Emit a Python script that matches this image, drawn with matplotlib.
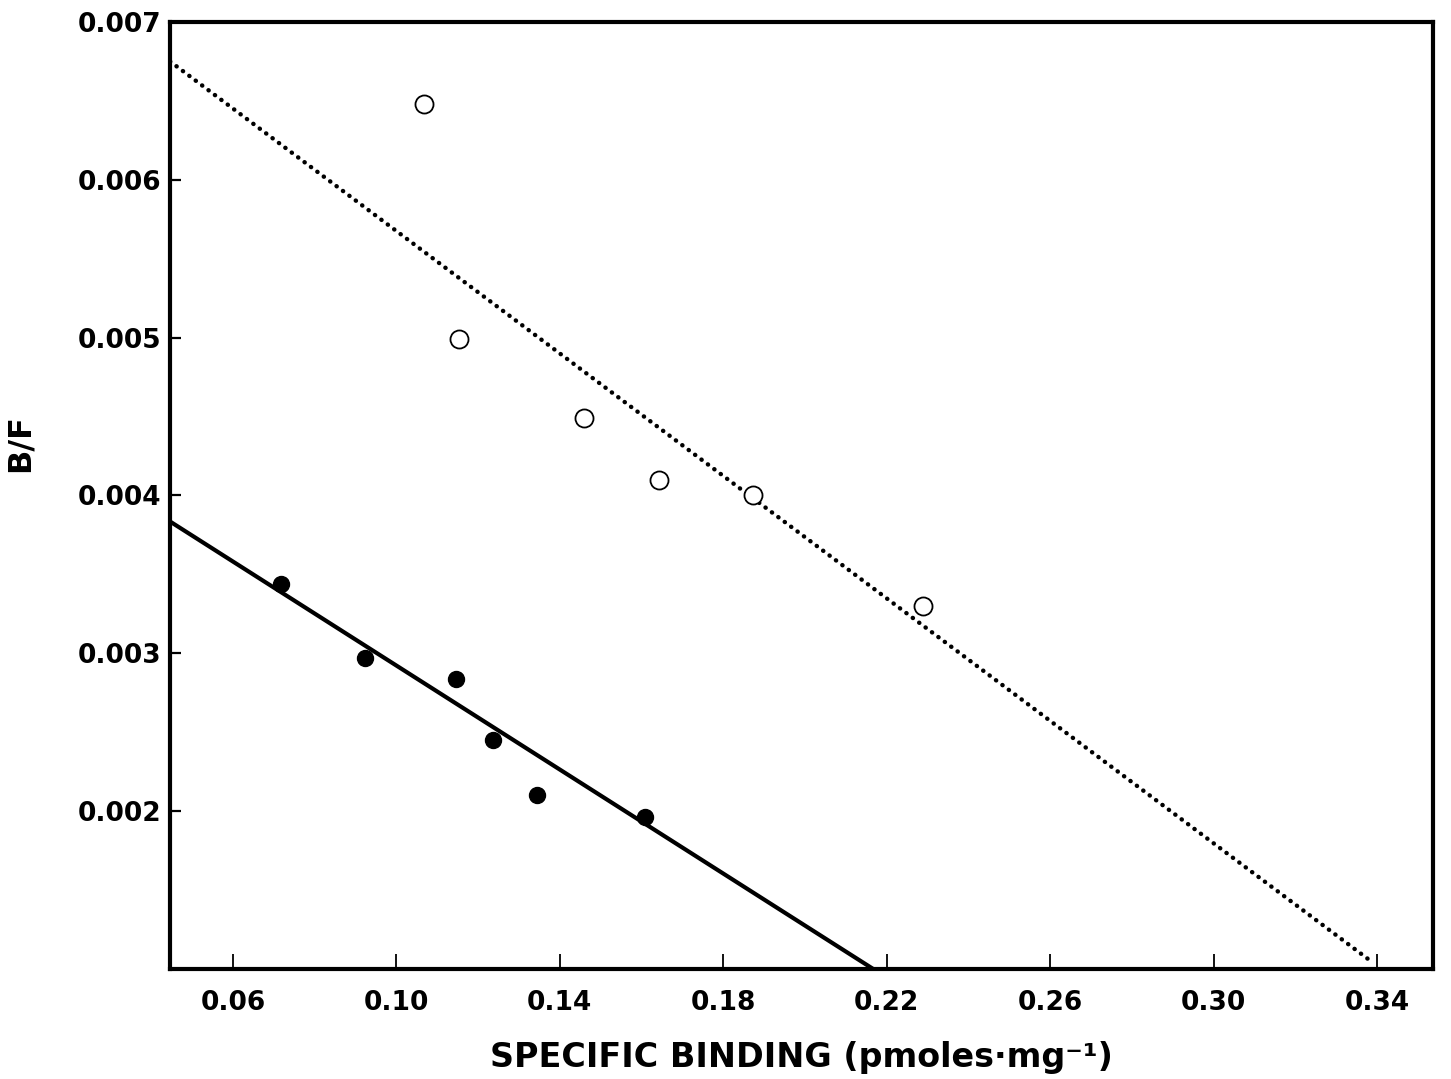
import matplotlib
matplotlib.use("Agg")
import matplotlib.pyplot as plt

# Data (Scatchard plot)
filled_x = [0.0717, 0.0922, 0.1147, 0.1236, 0.1343, 0.1609]
filled_y = [0.003439, 0.002971, 0.002835, 0.002450, 0.002104, 0.001963]

open_x = [0.1067, 0.1153, 0.1460, 0.1643, 0.1872, 0.2289]
open_y = [0.006481, 0.004992, 0.004490, 0.004100, 0.004004, 0.003297]

# fitted regression lines (end points)
solid_line_x = [0.0446, 0.2167]
solid_line_y = [0.003835, 0.001000]
dotted_line_x = [0.0446, 0.3385]
dotted_line_y = [0.006750, 0.001050]

x_ticks = [0.06, 0.10, 0.14, 0.18, 0.22, 0.26, 0.30, 0.34]
x_tick_labels = ["0.06", "0.10", "0.14", "0.18", "0.22", "0.26", "0.30", "0.34"]
y_ticks = [0.002, 0.003, 0.004, 0.005, 0.006, 0.007]
y_tick_labels = ["0.002", "0.003", "0.004", "0.005", "0.006", "0.007"]

x_label = "SPECIFIC BINDING (pmoles\u00b7mg\u207b\u00b9)"
y_label = "B/F"

plt.rcParams['font.family'] = ['DejaVu Sans']
plt.rcParams['font.weight'] = 'bold'

fig = plt.figure(figsize=(14.51, 10.79), dpi=100)
ax = fig.add_axes([0.11716, 0.10195, 0.98759 - 0.11716, 0.97961 - 0.10195])

ax.plot(solid_line_x, solid_line_y, color='black', lw=3.0, solid_capstyle='butt', zorder=2)
ax.plot(dotted_line_x, dotted_line_y, color='black', lw=3.2,
        linestyle=(0, (0.05, 1.75)), dash_capstyle='round', zorder=2)

ax.plot(filled_x, filled_y, 'o', color='black', markersize=11.5, zorder=3)
ax.plot(open_x, open_y, 'o', markerfacecolor='white', markeredgecolor='black',
        markersize=13, markeredgewidth=1.3, zorder=3)

ax.set_xlim(0.04458, 0.35371)
ax.set_ylim(0.001, 0.007)

ax.set_xticks(x_ticks)
ax.set_xticklabels(x_tick_labels, fontsize=19, fontweight='bold')
ax.set_yticks(y_ticks)
ax.set_yticklabels(y_tick_labels, fontsize=19, fontweight='bold')

ax.tick_params(axis='x', direction='in', length=11, width=1.3, pad=15)
ax.tick_params(axis='y', direction='in', length=8, width=1.6, pad=6)

for s in ax.spines.values():
    s.set_linewidth(3.0)

ax.set_xlabel(x_label, fontsize=24, fontweight='bold')
ax.xaxis.set_label_coords(0.5, -0.076)
ax.set_ylabel(y_label, fontsize=23, fontweight='bold')
ax.yaxis.set_label_coords(-0.106, 0.555)

fig.savefig("out.png", dpi=100, facecolor='white')
